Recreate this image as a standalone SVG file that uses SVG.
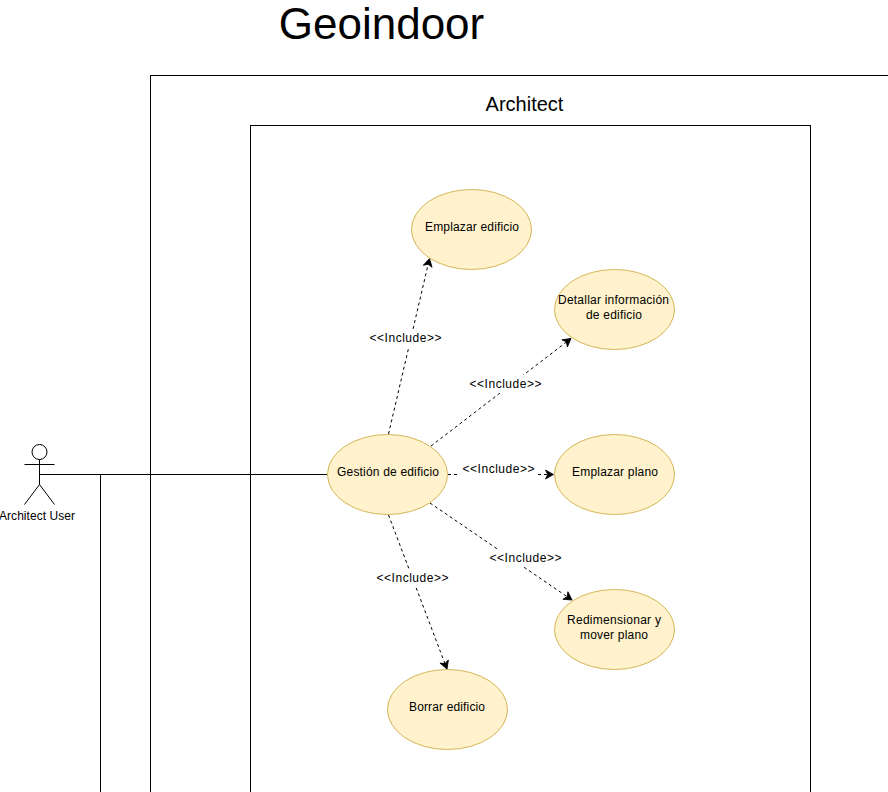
<svg xmlns="http://www.w3.org/2000/svg" width="888" height="792" viewBox="0 0 888 792">
<style>
text{font-family:"Liberation Sans",Arial,sans-serif;fill:#000;text-anchor:middle}
.t{font-size:12px}
.uc{fill:#fff2cc;stroke:#d6b656;stroke-width:1}
.frame{fill:none;stroke:#000;stroke-width:1}
.s{fill:none;stroke:#000;stroke-width:1}
.d{fill:none;stroke:#000;stroke-width:1;stroke-dasharray:3 3;marker-end:url(#a)}
.bg{fill:#fff;stroke:none}
</style>
<defs>
<marker id="a" markerUnits="userSpaceOnUse" markerWidth="12" markerHeight="12" refX="8" refY="5" orient="auto" overflow="visible">
<path d="M0 0.5L8 5L0 9.5L2.2 5Z" fill="#000" stroke="#000" stroke-width="0.8"/>
</marker>
</defs>
<rect width="888" height="792" fill="#fff"/>
<text id="title" x="381.5" y="39" style="font-size:44px">Geoindoor</text>
<g id="frame-outer"><rect class="frame" x="150.5" y="75.5" width="800" height="800"/></g>
<text id="frame-outer-label" x="524.5" y="111" style="font-size:20px">Architect</text>
<g id="frame-inner"><rect class="frame" x="250.5" y="125.5" width="560" height="750"/></g>
<g id="connectors">
<path class="s" d="M39.5 474.5H327"/>
<path class="s" d="M100.5 474.5V792"/>
<path class="d" d="M388.5 434L429.500 258.500"/>
<path class="d" d="M431 446L571 338.500"/>
<path class="d" d="M448 474.500H553.500"/>
<path class="d" d="M430 503L572 600"/>
<path class="d" d="M388.500 515L447 669"/>
<rect class="bg" x="369" y="329" width="73" height="18"/>
<text class="t" x="405.5" y="342" textLength="72">&lt;&lt;Include&gt;&gt;</text>
<rect class="bg" x="469" y="375" width="73" height="18"/>
<text class="t" x="505.5" y="388" textLength="72">&lt;&lt;Include&gt;&gt;</text>
<rect class="bg" x="459" y="460" width="78" height="18"/>
<text class="t" x="498.5" y="473" textLength="72">&lt;&lt;Include&gt;&gt;</text>
<rect class="bg" x="489" y="549" width="73" height="18"/>
<text class="t" x="525.5" y="562" textLength="72">&lt;&lt;Include&gt;&gt;</text>
<rect class="bg" x="376" y="569" width="73" height="18"/>
<text class="t" x="412.5" y="582" textLength="72">&lt;&lt;Include&gt;&gt;</text>
</g>
<g id="actor">
<circle cx="39.5" cy="452" r="7.5" fill="#fff" stroke="#000"/>
<path class="s" d="M39.5 459.5V484.5M24.5 464.500H54.5M24.5 504.5L39.5 484.5L54.5 504.5"/>
<text class="t" x="37" y="520" textLength="76">Architect User</text>
</g>
<g id="gestion"><ellipse class="uc" cx="387.500" cy="474.5" rx="60" ry="40"/><text class="t" x="388" y="476" textLength="102">Gestión de edificio</text></g>
<g id="emplazar-edificio"><ellipse class="uc" cx="471.5" cy="229.5" rx="60" ry="40"/><text class="t" x="472" y="231" textLength="94">Emplazar edificio</text></g>
<g id="detallar"><ellipse class="uc" cx="614.5" cy="309.5" rx="60" ry="40"/><text class="t" x="613.5" y="304" textLength="111">Detallar información</text><text class="t" x="614" y="319" textLength="56">de edificio</text></g>
<g id="emplazar-plano"><ellipse class="uc" cx="614.5" cy="474.5" rx="60" ry="40"/><text class="t" x="615" y="476" textLength="86">Emplazar plano</text></g>
<g id="redimensionar"><ellipse class="uc" cx="614.5" cy="629.5" rx="60" ry="40"/><text class="t" x="614" y="624" textLength="94">Redimensionar y</text><text class="t" x="614" y="639" textLength="68">mover plano</text></g>
<g id="borrar"><ellipse class="uc" cx="447.5" cy="709.5" rx="60" ry="40"/><text class="t" x="447" y="711" textLength="76">Borrar edificio</text></g>
</svg>
